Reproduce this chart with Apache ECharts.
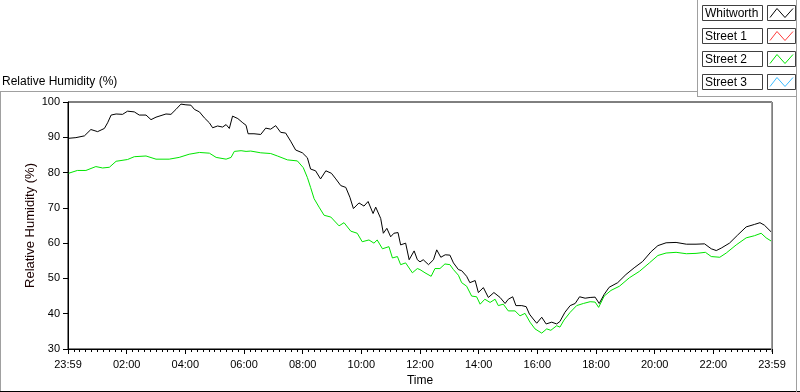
<!DOCTYPE html>
<html><head><meta charset="utf-8">
<script src="https://cdn.jsdelivr.net/npm/echarts/dist/echarts.min.js"></script>
<style>html,body{margin:0;padding:0;background:#fff}#c{width:800px;height:392px}</style>
</head><body><div id="c"></div>
<script>
// ---- data (hours since 23:59 of previous day, relative humidity %) ----
const whitworthTime = [0.0,0.27,0.56,0.78,1.01,1.24,1.35,1.47,1.64,1.86,2.03,2.26,2.43,2.66,2.83,3.0,3.34,3.51,3.68,3.85,4.02,4.19,4.31,4.48,4.65,4.82,4.93,5.1,5.27,5.39,5.5,5.61,5.79,5.96,6.07,6.14,6.34,6.57,6.74,6.91,7.08,7.25,7.42,7.59,7.76,7.99,8.16,8.27,8.44,8.61,8.79,8.98,9.13,9.3,9.47,9.61,9.73,9.92,10.09,10.23,10.4,10.49,10.66,10.75,10.87,11.0,11.11,11.25,11.34,11.51,11.63,11.8,11.91,12.0,12.11,12.29,12.46,12.57,12.71,12.86,13.02,13.14,13.31,13.42,13.59,13.7,13.88,13.99,14.16,14.33,14.52,14.73,14.9,15.01,15.16,15.27,15.47,15.62,15.73,15.86,15.98,16.15,16.3,16.49,16.66,16.77,16.94,17.12,17.29,17.44,17.63,17.8,17.97,18.11,18.28,18.45,18.74,19.02,19.3,19.59,19.88,20.11,20.39,20.73,21.08,21.41,21.7,21.93,22.1,22.27,22.55,22.83,23.12,23.4,23.59,23.74,23.97];
const whitworthRH = [89.7,89.9,90.4,92.2,91.6,92.5,94.1,96.3,96.6,96.5,97.4,97.2,96.3,96.3,95.0,95.7,96.6,96.5,97.9,99.4,99.2,99.1,97.9,97.2,95.5,94.1,92.7,93.2,92.9,93.6,92.5,96.0,95.3,94.1,93.4,91.0,91.0,90.8,92.6,92.3,93.3,91.4,91.2,88.9,86.4,85.6,84.2,81.0,80.5,78.2,80.5,79.8,78.2,76.3,75.8,73.0,69.8,71.4,70.5,71.8,68.4,70.2,67.0,62.8,64.2,61.8,62.8,63.0,59.5,60.0,55.3,57.8,55.3,54.7,55.3,53.9,55.3,58.1,56.0,56.7,56.6,54.4,52.5,52.2,50.6,48.8,49.4,46.0,47.4,44.6,46.0,44.6,42.9,44.1,44.8,42.3,42.3,42.0,39.9,38.5,37.3,39.0,37.1,37.6,37.1,37.8,40.4,42.3,42.9,44.8,44.4,44.6,44.7,42.9,45.5,47.5,48.8,51.1,53.0,54.8,57.6,59.3,60.1,60.2,59.7,59.7,59.8,58.4,57.9,58.6,60.0,62.3,64.6,65.3,65.8,65.1,63.2];
const street2Time = [0.02,0.32,0.61,0.95,1.18,1.41,1.64,2.03,2.26,2.66,3.0,3.45,3.79,4.13,4.48,4.82,5.05,5.39,5.56,5.67,5.9,6.07,6.23,6.57,6.91,7.14,7.48,7.82,8.02,8.16,8.27,8.39,8.56,8.73,8.96,9.24,9.41,9.64,9.86,10.03,10.26,10.43,10.54,10.72,10.94,11.06,11.23,11.34,11.51,11.74,11.91,12.0,12.17,12.38,12.51,12.68,12.85,13.02,13.14,13.31,13.42,13.59,13.76,13.93,14.05,14.21,14.39,14.56,14.67,14.84,15.01,15.24,15.41,15.58,15.75,15.92,16.15,16.32,16.46,16.66,16.77,16.91,17.12,17.34,17.57,17.8,17.97,18.09,18.28,18.51,18.8,19.14,19.48,19.82,20.11,20.39,20.73,21.08,21.41,21.73,21.93,22.22,22.44,22.78,23.12,23.4,23.63,23.8,23.97];
const street2RH = [79.8,80.6,80.6,81.7,81.3,81.5,83.2,83.7,84.5,84.7,83.8,83.8,84.3,85.2,85.7,85.5,84.3,83.8,84.3,86.0,86.2,86.0,86.1,85.6,85.4,84.7,83.6,83.3,81.4,78.6,75.8,72.6,70.2,67.9,67.4,64.9,65.8,63.4,62.8,60.4,60.9,60.0,60.9,58.4,59.0,55.8,56.2,53.9,54.4,51.6,52.8,52.5,51.6,50.6,52.8,52.8,54.1,53.9,52.5,50.9,48.8,47.8,45.0,44.8,42.7,44.1,43.2,44.1,42.3,42.7,40.8,40.8,39.4,40.1,37.6,35.7,34.5,35.7,35.3,36.6,36.2,38.2,40.4,42.3,42.9,43.4,43.3,41.8,45.0,46.6,47.8,50.2,52.0,54.4,56.5,57.2,57.4,57.0,57.1,57.4,56.2,56.0,57.2,59.5,61.5,62.1,62.8,61.5,60.6];
const street1Time = [];
const street1RH = [];
const street3Time = [];
const street3RH = [];

const seriesNames = ['Whitworth', 'Street 1', 'Street 2', 'Street 3'];
const seriesColors = ['#000000', '#ff3c3c', '#00e600', '#3cbcff'];
const xTickLabels = ['23:59','02:00','04:00','06:00','08:00','10:00','12:00','14:00','16:00','18:00','20:00','22:00','23:59'];
const chartTitle = 'Relative Humidity (%)';
const yAxisName = 'Relative Humidity (%)';
const xAxisName = 'Time';

function pairs(t, v) { return t.map((h, i) => [h, v[i]]); }
const seriesData = [pairs(whitworthTime, whitworthRH), pairs(street1Time, street1RH), pairs(street2Time, street2RH), pairs(street3Time, street3RH)];

const FONT = 'Liberation Sans';
const chart = echarts.init(document.getElementById('c'), null, {renderer: 'canvas'});

// frame lines and legend drawn as boxes (text box + swatch box), top-right
const graphics = [];
graphics.push({type: 'line', shape: {x1: 0, y1: 91.5, x2: 698, y2: 91.5}, style: {stroke: '#a0a0a0', lineWidth: 1}, silent: true});
graphics.push({type: 'line', shape: {x1: 0.5, y1: 91, x2: 0.5, y2: 392}, style: {stroke: '#a0a0a0', lineWidth: 1}, silent: true});
graphics.push({type: 'line', shape: {x1: 0, y1: 391.5, x2: 800, y2: 391.5}, style: {stroke: '#000', lineWidth: 1}, silent: true});
graphics.push({type: 'line', shape: {x1: 697.5, y1: 0, x2: 697.5, y2: 96}, style: {stroke: '#a0a0a0', lineWidth: 1}, silent: true});
graphics.push({type: 'line', shape: {x1: 697, y1: 96.5, x2: 797, y2: 96.5}, style: {stroke: '#a0a0a0', lineWidth: 1}, silent: true});
graphics.push({type: 'line', shape: {x1: 796.5, y1: 0, x2: 796.5, y2: 392}, style: {stroke: '#a0a0a0', lineWidth: 1}, silent: true});
graphics.push({type: 'line', shape: {x1: 771.5, y1: 102, x2: 771.5, y2: 352}, style: {stroke: '#a0a0a0', lineWidth: 1}, z: 100, silent: true});
graphics.push({type: 'text', left: 2, top: 76, style: {text: chartTitle, font: '12px "' + FONT + '"', fill: '#000'}, silent: true});
seriesNames.forEach((name, i) => {
  const y0 = 5.5 + i * 23;
  graphics.push({type: 'rect', shape: {x: 702.5, y: y0, width: 60, height: 15}, style: {fill: '#fff', stroke: '#404040', lineWidth: 1}, silent: true});
  graphics.push({type: 'text', x: 705, y: y0 + 8, style: {text: name, font: '12px "' + FONT + '"', fill: '#000', verticalAlign: 'middle'}, silent: true});
  graphics.push({type: 'rect', shape: {x: 767.5, y: y0, width: 28, height: 15}, style: {fill: '#fff', stroke: '#404040', lineWidth: 1}, silent: true});
  graphics.push({type: 'polyline', shape: {points: [[770, y0 + 12], [777, y0 + 3], [785, y0 + 12], [793, y0 + 3]]}, style: {stroke: seriesColors[i], lineWidth: 1, fill: null}, silent: true});
});

const option = {
  animation: false,
  backgroundColor: '#fff',
  textStyle: {fontFamily: FONT},
  grid: {left: 68, right: 28, top: 102, bottom: 40, show: true, borderColor: '#000', borderWidth: 1, backgroundColor: '#fff'},
  xAxis: {
    type: 'value', min: 0, max: 24, interval: 2,
    name: xAxisName, nameLocation: 'middle', nameGap: 26, nameMoveOverlap: false,
    nameTextStyle: {fontSize: 12, color: '#000', fontFamily: FONT},
    axisLine: {show: true, lineStyle: {color: '#000', width: 1}},
    axisTick: {show: true, length: 5, lineStyle: {color: '#000'}},
    minorTick: {show: true, splitNumber: 10, length: 3, lineStyle: {color: '#000'}},
    splitLine: {show: false},
    axisLabel: {margin: 10, fontSize: 11, color: '#000', fontFamily: FONT,
      formatter: v => xTickLabels[Math.round(v / 2)]}
  },
  yAxis: {
    type: 'value', min: 30, max: 100, interval: 10,
    name: yAxisName, nameLocation: 'middle', nameGap: 31, nameRotate: 90, nameMoveOverlap: false,
    nameTextStyle: {fontSize: 13, color: '#1a0000', fontFamily: FONT},
    axisLine: {show: true, lineStyle: {color: '#000', width: 1}},
    axisTick: {show: true, length: 5, lineStyle: {color: '#000'}},
    splitLine: {show: false},
    axisLabel: {margin: 8, fontSize: 11, color: '#000', fontFamily: FONT}
  },
  series: seriesNames.map((name, i) => ({
    name: name, type: 'line', data: seriesData[i], showSymbol: false, symbol: 'none',
    lineStyle: {color: seriesColors[i], width: 1}, itemStyle: {color: seriesColors[i]},
    z: i === 0 ? 5 : 3
  })),
  graphic: graphics
};
chart.setOption(option);
</script>
</body></html>
